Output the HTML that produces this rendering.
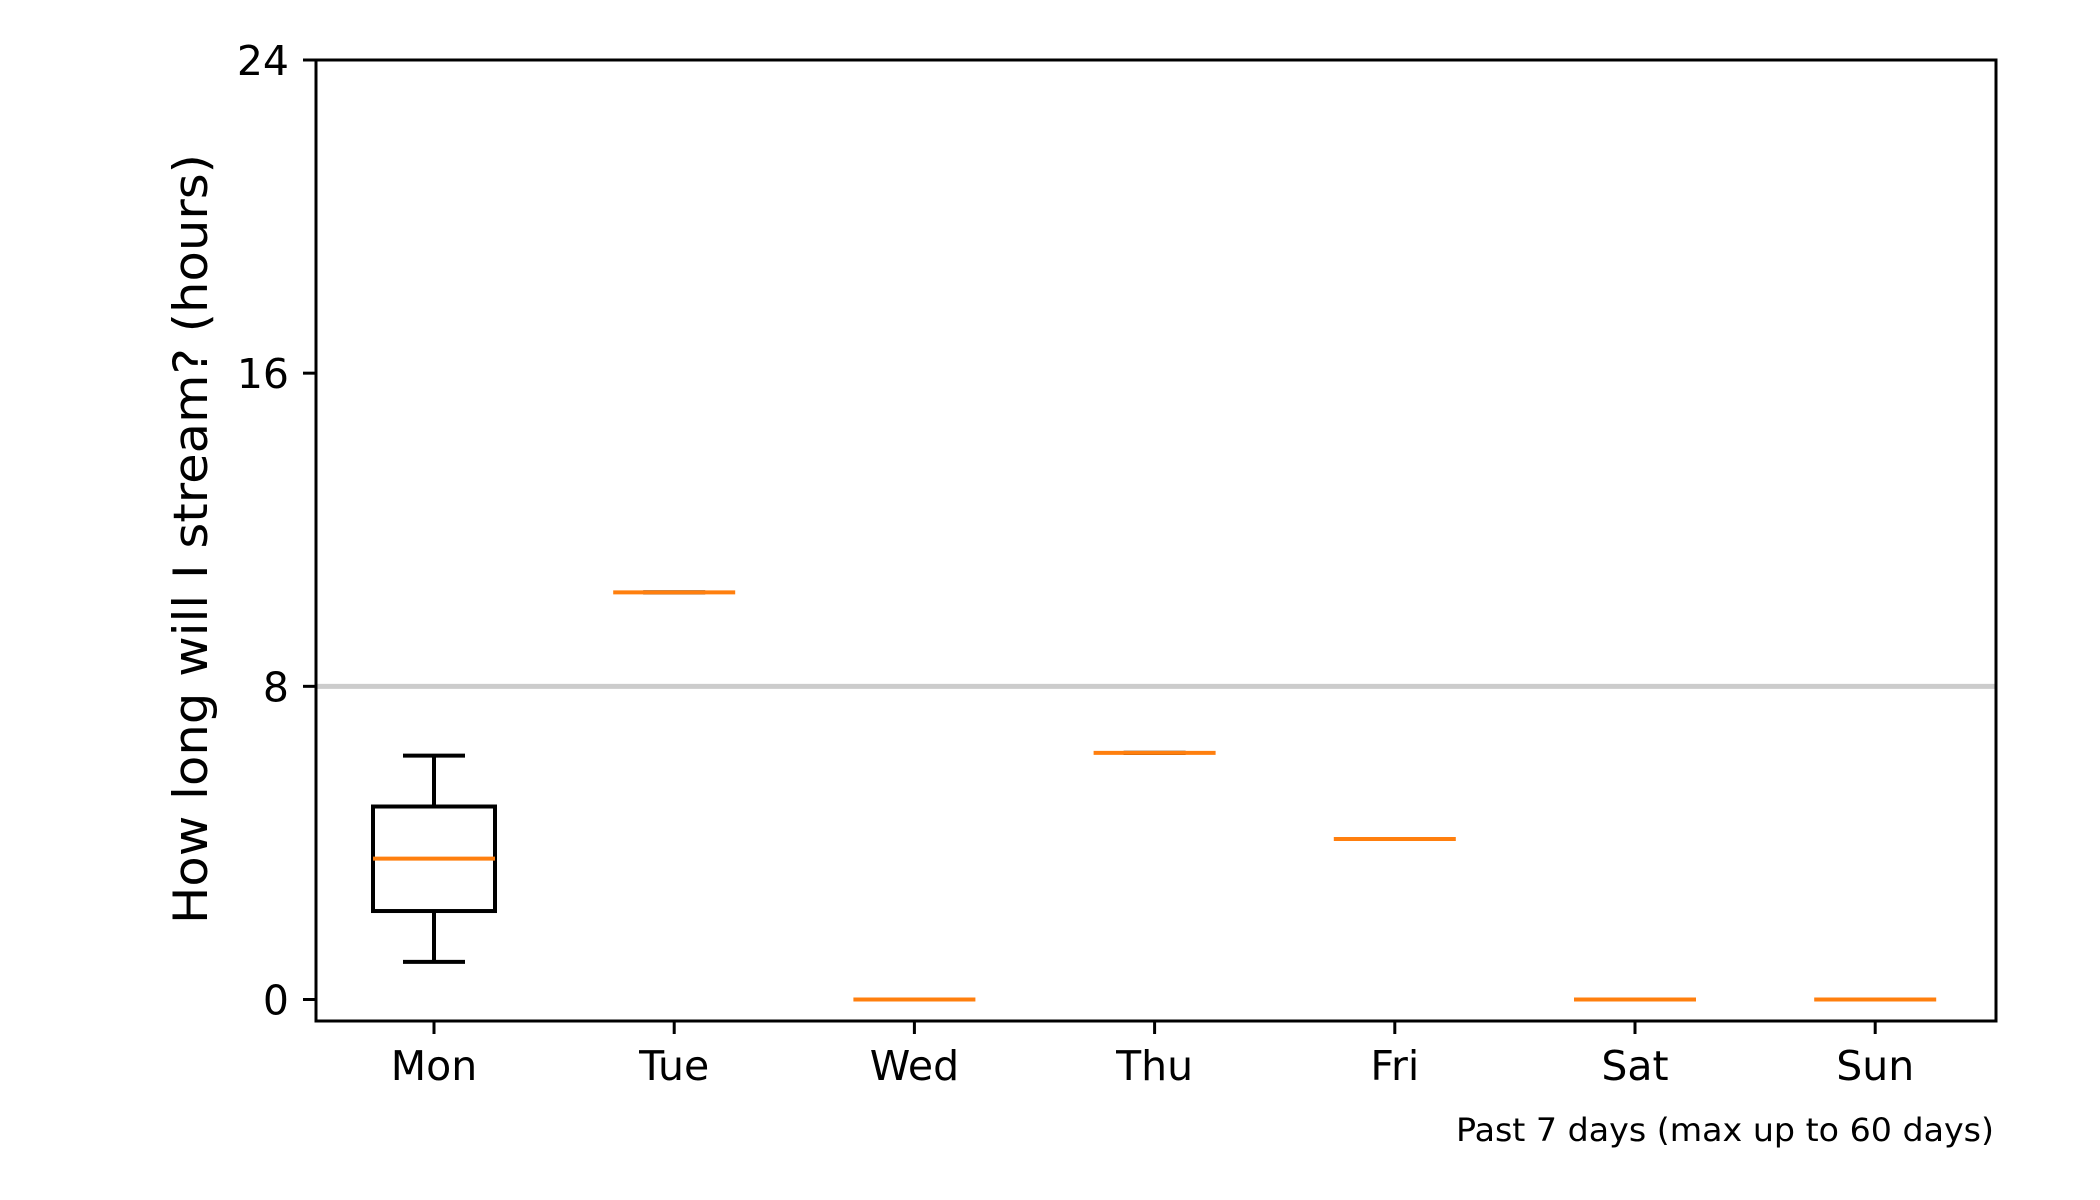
<!DOCTYPE html>
<html><head><meta charset="utf-8"><style>body{margin:0;background:#fff}svg{display:block}text{font-family:"DejaVu Sans","Liberation Sans",sans-serif;fill:#000}</style></head>
<body>
<svg id="chart" width="2100" height="1200" viewBox="0 0 2100 1200" xmlns="http://www.w3.org/2000/svg"></svg>
<script>
const categories = ["Mon","Tue","Wed","Thu","Fri","Sat","Sun"];
const whiskerLow = [0.96,10.4,0,6.3,4.1,0,0];
const q1 = [2.26,10.4,0,6.3,4.1,0,0];
const medians = [3.6,10.4,0,6.3,4.1,0,0];
const q3 = [4.93,10.4,0,6.3,4.1,0,0];
const whiskerHigh = [6.23,10.4,0,6.3,4.1,0,0];
const yTicks = [0,8,16,24];
const refLine = [8];

const svg = document.getElementById('chart');
const NS = 'http://www.w3.org/2000/svg';
const L=316,R=1996,T=60,B=1021;
const y0px=999.5, yMax=24;
function ys(v){return y0px-(y0px-T)*v/yMax;}
function xs(i){return 434+i*240.2;}
function mk(tag,attrs,txt){const e=document.createElementNS(NS,tag);for(const k in attrs)e.setAttribute(k,attrs[k]);if(txt!==undefined)e.textContent=txt;svg.appendChild(e);return e;}

refLine.forEach(v=>{
  const e=mk('line',{x1:L,x2:R,y1:ys(v),y2:ys(v),stroke:'#cccccc','stroke-width':5});
  
  
});

const hw=61;
categories.forEach((c,i)=>{
  const x=xs(i);
  const g=document.createElementNS(NS,'g');svg.appendChild(g);
  
  
  const add=(tag,a)=>{const e=document.createElementNS(NS,tag);for(const k in a)e.setAttribute(k,a[k]);g.appendChild(e);return e;};
  add('line',{x1:x,x2:x,y1:ys(whiskerHigh[i]),y2:ys(q3[i]),stroke:'#000','stroke-width':4});
  add('line',{x1:x,x2:x,y1:ys(q1[i]),y2:ys(whiskerLow[i]),stroke:'#000','stroke-width':4});
  add('line',{x1:x-31,x2:x+31,y1:ys(whiskerHigh[i]),y2:ys(whiskerHigh[i]),stroke:'#000','stroke-width':4});
  add('line',{x1:x-31,x2:x+31,y1:ys(whiskerLow[i]),y2:ys(whiskerLow[i]),stroke:'#000','stroke-width':4});
  add('rect',{x:x-hw,y:ys(q3[i]),width:2*hw,height:Math.max(0,ys(q1[i])-ys(q3[i])),fill:'none',stroke:'#000','stroke-width':4});
  add('line',{x1:x-hw,x2:x+hw,y1:ys(medians[i]),y2:ys(medians[i]),stroke:'#ff7f0e','stroke-width':4});
  const t=mk('line',{x1:x,x2:x,y1:B,y2:B+13,stroke:'#000','stroke-width':3});
  
  
  const l=mk('text',{x:x,y:1080,'font-size':41,'text-anchor':'middle'},c);
  
  
});

yTicks.forEach(v=>{
  const t=mk('line',{x1:L-13,x2:L,y1:ys(v),y2:ys(v),stroke:'#000','stroke-width':3});
  
  
  const l=mk('text',{x:289,y:ys(v)+15,'font-size':41,'text-anchor':'end'},String(v));
  
  
});

const frame=mk('rect',{x:L,y:T,width:R-L,height:B-T,fill:'none',stroke:'#000','stroke-width':3});



const yl=mk('text',{x:0,y:0,'font-size':47,'text-anchor':'middle',transform:'translate(207,539) rotate(-90)',textLength:770,lengthAdjust:'spacingAndGlyphs'},'How long will I stream? (hours)');



const xl=mk('text',{x:1994,y:1141,'font-size':32,'text-anchor':'end',textLength:538,lengthAdjust:'spacingAndGlyphs'},'Past 7 days (max up to 60 days)');


</script>
</body></html>
